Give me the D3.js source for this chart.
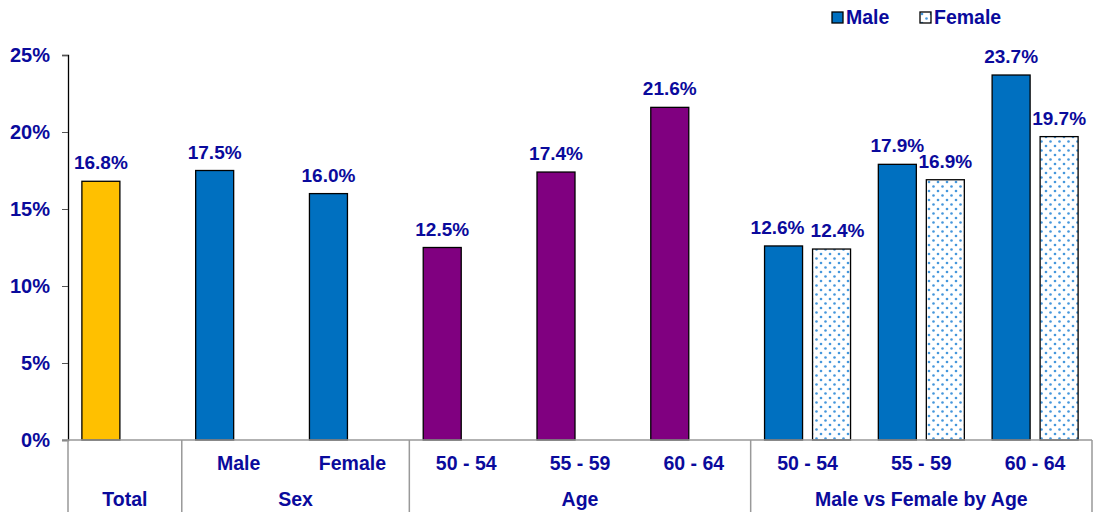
<!DOCTYPE html>
<html>
<head>
<meta charset="utf-8">
<script src="https://cdn.jsdelivr.net/npm/d3@7/dist/d3.min.js"></script>
<style>
  body { margin: 0; background: #fff; }
  text { font-family: "Liberation Sans", Arial, sans-serif; font-weight: bold; fill: #0a0a9c; }
</style>
</head>
<body>
<div id="chart"></div>
<script>
// categories (one slot each), with their group labels
var categories = ["Total", "Male", "Female", "50 - 54", "55 - 59", "60 - 64", "50 - 54", "55 - 59", "60 - 64"];
var groups = [
  { name: "Total", from: 0, to: 1 },
  { name: "Sex", from: 1, to: 3 },
  { name: "Age", from: 3, to: 6 },
  { name: "Male vs Female by Age", from: 6, to: 9 }
];
// first bar in each slot, second bar (Female) only in the last group
var series1 = [16.8, 17.5, 16.0, 12.5, 17.4, 21.6, 12.6, 17.9, 23.7];
var series2 = [null, null, null, null, null, null, 12.4, 16.9, 19.7];
var colors1 = ["#ffc000", "#0070c0", "#0070c0", "#800080", "#800080", "#800080", "#0070c0", "#0070c0", "#0070c0"];
var yTicks = [0, 5, 10, 15, 20, 25];

var W = 1096, H = 515;
var margin = { top: 55, right: 4, bottom: 75, left: 68 };

var svg = d3.select("#chart").append("svg")
    .attr("width", W)
    .attr("height", H);

var defs = svg.append("defs");
var pat = defs.append("pattern")
    .attr("id", "dots")
    .attr("patternUnits", "userSpaceOnUse")
    .attr("width", 9)
    .attr("height", 9);
pat.append("rect").attr("width", 9).attr("height", 9).attr("fill", "#fff");
pat.append("circle").attr("cx", 2).attr("cy", 2).attr("r", 1.3).attr("fill", "#4597dc");
pat.append("circle").attr("cx", 6.5).attr("cy", 6.5).attr("r", 1.3).attr("fill", "#4597dc");

var x = d3.scaleBand()
    .domain(d3.range(categories.length))
    .range([margin.left, W - margin.right])
    .padding(0);

var y = d3.scaleLinear()
    .domain([0, 25])
    .range([H - margin.bottom, margin.top]);

var barW = 38, gap = 10;
function x1(i) { return x(i) + x.bandwidth() / 2 - gap / 2 - barW; }
function x2(i) { return x(i) + x.bandwidth() / 2 + gap / 2; }

// push a pair of labels apart when they sit at nearly the same height
function nudge(i) {
  if (series2[i] == null) return 0;
  return Math.abs(y(series1[i]) - y(series2[i])) < 14 ? 6 : 0;
}

// y axis
var yAxis = d3.axisLeft(y)
    .tickValues(yTicks)
    .tickSize(6)
    .tickPadding(12)
    .tickFormat(function(d) { return d + "%"; });

var ya = svg.append("g")
    .attr("transform", "translate(" + margin.left + ",0)")
    .call(yAxis);
ya.select(".domain").attr("stroke", "#000").attr("stroke-width", 1.3);
ya.selectAll(".tick line").attr("stroke", "#555");
ya.selectAll(".tick text")
    .style("font-size", "20px")
    .attr("fill", "#0a0a9c");

// bars
svg.selectAll(".bar1")
    .data(series1)
    .enter().append("rect")
    .attr("class", "bar1")
    .attr("x", function(d, i) { return x1(i); })
    .attr("y", function(d) { return y(d); })
    .attr("width", barW)
    .attr("height", function(d) { return y(0) - y(d); })
    .attr("fill", function(d, i) { return colors1[i]; })
    .attr("stroke", "#000")
    .attr("stroke-width", 1.3);

var s2 = series2.map(function(d, i) { return { v: d, i: i }; }).filter(function(d) { return d.v != null; });

svg.selectAll(".bar2")
    .data(s2)
    .enter().append("rect")
    .attr("class", "bar2")
    .attr("x", function(d) { return x2(d.i); })
    .attr("y", function(d) { return y(d.v); })
    .attr("width", barW)
    .attr("height", function(d) { return y(0) - y(d.v); })
    .attr("fill", "url(#dots)")
    .attr("stroke", "#000")
    .attr("stroke-width", 1.3);

// value labels
svg.selectAll(".lab1")
    .data(series1)
    .enter().append("text")
    .attr("x", function(d, i) { return x1(i) + barW / 2 - nudge(i); })
    .attr("y", function(d) { return y(d) - 12; })
    .attr("text-anchor", "middle")
    .style("font-size", "19px")
    .text(function(d) { return d.toFixed(1) + "%"; });

svg.selectAll(".lab2")
    .data(s2)
    .enter().append("text")
    .attr("x", function(d) { return x2(d.i) + barW / 2 + nudge(d.i); })
    .attr("y", function(d) { return y(d.v) - 12; })
    .attr("text-anchor", "middle")
    .style("font-size", "19px")
    .text(function(d) { return d.v.toFixed(1) + "%"; });

// category axis
var base = y(0);
svg.append("line")
    .attr("x1", margin.left - 6).attr("x2", W - margin.right)
    .attr("y1", base).attr("y2", base)
    .attr("stroke", "#999").attr("stroke-width", 1.5);

var seps = groups.map(function(g) { return g.from; }).concat([categories.length]);
svg.selectAll(".sep")
    .data(seps)
    .enter().append("line")
    .attr("x1", function(d) { return d < categories.length ? x(d) : x.range()[1]; })
    .attr("x2", function(d) { return d < categories.length ? x(d) : x.range()[1]; })
    .attr("y1", base)
    .attr("y2", base + 72)
    .attr("stroke", "#999")
    .attr("stroke-width", 1.5);

svg.selectAll(".cat")
    .data(categories)
    .enter().append("text")
    .filter(function(d, i) { return i > 0; })
    .attr("x", function(d, i) { return x(i + 1) + x.bandwidth() / 2; })
    .attr("y", base + 30)
    .attr("text-anchor", "middle")
    .style("font-size", "19.5px")
    .text(function(d) { return d; });

svg.selectAll(".grp")
    .data(groups)
    .enter().append("text")
    .attr("x", function(g) { return (x(g.from) + (g.to < categories.length ? x(g.to) : x.range()[1])) / 2; })
    .attr("y", base + 66)
    .attr("text-anchor", "middle")
    .style("font-size", "19.5px")
    .text(function(g) { return g.name; });

// legend
var legend = [{ name: "Male", fill: "#0070c0" }, { name: "Female", fill: "url(#dots)" }];
var lg = svg.selectAll(".legend")
    .data(legend)
    .enter().append("g")
    .attr("transform", function(d, i) { return "translate(" + (832 + i * 88) + ",12)"; });
lg.append("rect")
    .attr("width", 11).attr("height", 11)
    .attr("fill", function(d) { return d.fill; })
    .attr("stroke", "#000").attr("stroke-width", 1.3);
lg.append("text")
    .attr("x", 14).attr("y", 11.5)
    .style("font-size", "19.5px")
    .text(function(d) { return d.name; });
</script>
</body>
</html>
